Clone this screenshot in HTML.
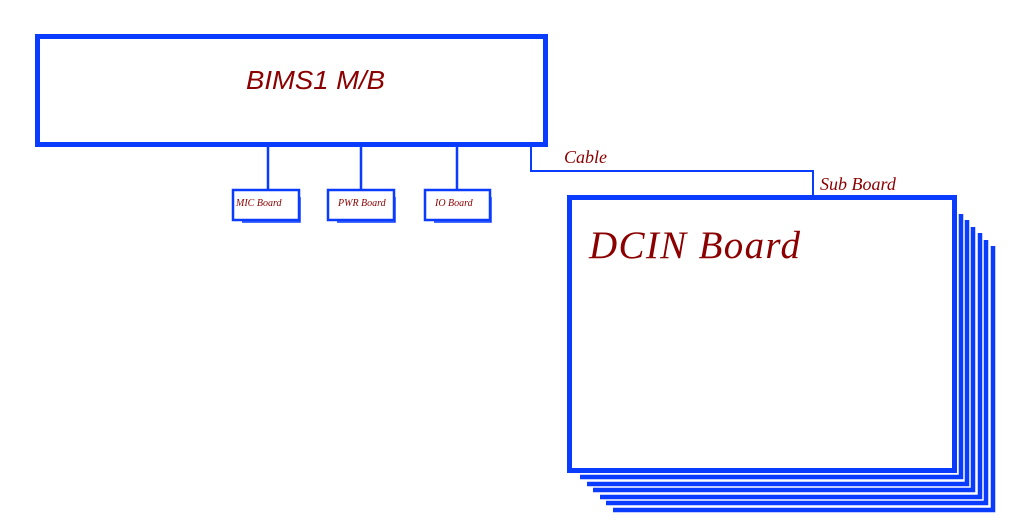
<!DOCTYPE html>
<html><head><style>body{margin:0;background:#fff}svg{display:block}</style></head><body>
<svg width="1023" height="529" xmlns="http://www.w3.org/2000/svg">
<g fill="none" stroke="#0a3cff">
<rect x="37.5" y="36.5" width="508" height="108" stroke-width="5"/>
<path d="M268 146V189M361 146V189M457 146V189" stroke-width="2.5"/>
<path d="M531 146V171H813V196" stroke-width="2"/>
<rect x="233" y="190" width="66" height="30" stroke-width="2.5"/>
<rect x="328" y="190" width="66" height="30" stroke-width="2.5"/>
<rect x="425" y="190" width="65" height="30" stroke-width="2.5"/>
<path d="M242 222H300V197M337 222H395V197M434 222H491V197" stroke-width="1.5"/>
<g stroke-width="4.5">
<path d="M580 477H961V214"/>
<path d="M587 484H967V220"/>
<path d="M593 490H973V227"/>
<path d="M600 497H980V233"/>
<path d="M606 503H986V240"/>
<path d="M613 510H993V246"/>
</g>
<rect x="569.5" y="197.5" width="385" height="273" stroke-width="5"/>
</g>
<g fill="#8b0000" font-style="italic">
<text x="246" y="89" font-family="Liberation Sans, sans-serif" font-size="26" textLength="139" lengthAdjust="spacingAndGlyphs">BIMS1 M/B</text>
<text x="564" y="163" font-family="Liberation Serif, serif" font-size="18">Cable</text>
<text x="820" y="190" font-family="Liberation Serif, serif" font-size="18">Sub Board</text>
<text x="589" y="258" font-family="Liberation Serif, serif" font-size="39" textLength="211">DCIN Board</text>
<text x="236" y="206" font-family="Liberation Serif, serif" font-size="10">MIC Board</text>
<text x="338" y="206" font-family="Liberation Serif, serif" font-size="10">PWR Board</text>
<text x="435" y="206" font-family="Liberation Serif, serif" font-size="10">IO Board</text>
</g>
</svg>
</body></html>
